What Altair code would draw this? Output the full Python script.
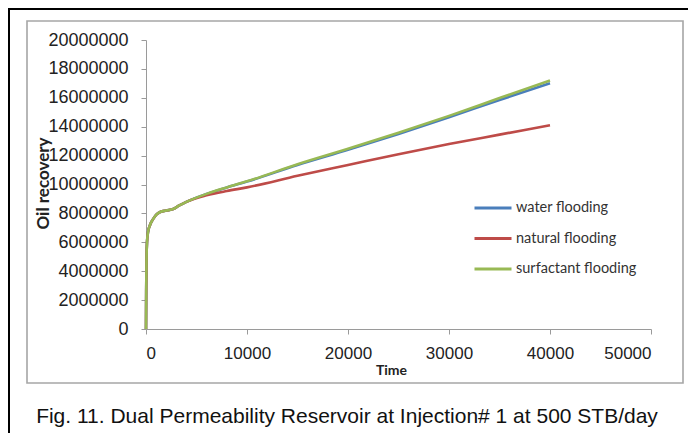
import altair as alt
import pandas as pd

# ---- data ----
t_common = [0, 20, 50, 100, 200, 400, 700, 1000, 1400, 2000, 2700, 3300, 4000]
y_common = [0, 2.6e6, 4.8e6, 6.0e6, 6.7e6, 7.2e6, 7.6e6, 7.9e6, 8.1e6, 8.2e6, 8.3e6, 8.55e6, 8.8e6]

t_late = [6000, 8000, 10000, 15000, 20000, 25000, 30000, 35000, 40000]
water_late = [9.35e6, 9.8e6, 10.2e6, 11.35e6, 12.4e6, 13.5e6, 14.65e6, 15.85e6, 17.0e6]
natural_late = [9.25e6, 9.55e6, 9.8e6, 10.6e6, 11.35e6, 12.1e6, 12.8e6, 13.45e6, 14.1e6]
surf_late = [9.35e6, 9.8e6, 10.22e6, 11.4e6, 12.47e6, 13.58e6, 14.75e6, 15.98e6, 17.2e6]

series_names = ["water flooding", "natural flooding", "surfactant flooding"]
series_colors = ["#4a7ebb", "#be4b48", "#98b954"]

x_ticks = [0, 10000, 20000, 30000, 40000, 50000]
y_ticks = [0, 2000000, 4000000, 6000000, 8000000, 10000000, 12000000,
           14000000, 16000000, 18000000, 20000000]

caption = "Fig. 11. Dual Permeability Reservoir at Injection# 1 at 500 STB/day"

rows = []
for order, (name, late) in enumerate(zip(series_names, [water_late, natural_late, surf_late])):
    for t, v in zip(t_common + t_late, y_common + late):
        rows.append({"Time": t, "Oil recovery": v, "series": name, "order": order})
df = pd.DataFrame(rows)

W, H = 505, 289

lines = alt.Chart(df).mark_line(strokeWidth=2.6, interpolate="monotone").encode(
    x=alt.X("Time:Q", scale=alt.Scale(domain=[0, 50000], nice=False),
            axis=alt.Axis(values=x_ticks, format="d", grid=False,
                          title="Time", titleFont="Lato", titleFontWeight="bold",
                          titleFontSize=14, titleColor="#222222",
                          titleX=245, titleY=41, titleBaseline="middle",
                          titleAnchor="start", titleAlign="center",
                          labelFont="Liberation Sans", labelFontSize=17,
                          labelColor="#222222", labelPadding=11,
                          tickColor="#9a9a9a", domainColor="#9a9a9a", tickSize=5)),
    y=alt.Y("Oil recovery:Q", scale=alt.Scale(domain=[0, 20000000], nice=False),
            axis=alt.Axis(values=y_ticks, format="d", grid=False,
                          title="Oil recovery", titleFont="Lato", titleFontWeight="bold",
                          titleFontSize=17, titleColor="#222222",
                          titleX=-103, titleY=143, titleAngle=-90,
                          titleBaseline="middle", titleAlign="center", titleAnchor="start",
                          labelFont="Liberation Sans", labelFontSize=18,
                          labelColor="#222222", labelPadding=13,
                          tickColor="#9a9a9a", domainColor="#9a9a9a", tickSize=5)),
    color=alt.Color("series:N",
                    scale=alt.Scale(domain=series_names, range=series_colors),
                    sort=series_names,
                    legend=alt.Legend(title=None, orient="none", legendX=327, legendY=160,
                                      symbolType="stroke", symbolSize=1369,
                                      symbolStrokeWidth=3, clipHeight=16,
                                      rowPadding=14.5, labelFont="Lato", labelFontSize=14.5,
                                      labelColor="#333333", labelOffset=3, padding=0)),
    order="order:O",
)

inner_box = alt.Chart(pd.DataFrame({"k": [0]})).mark_rect(
    fill="transparent", stroke="#a6a6a6", strokeWidth=1.6
).encode(x=alt.value(-119), x2=alt.value(537), y=alt.value(-19), y2=alt.value(343))

outer_top = alt.Chart(pd.DataFrame({"k": [0]})).mark_rect(color="black").encode(
    x=alt.value(-138), x2=alt.value(560), y=alt.value(-32), y2=alt.value(-30))
outer_left = alt.Chart(pd.DataFrame({"k": [0]})).mark_rect(color="black").encode(
    x=alt.value(-138), x2=alt.value(-136), y=alt.value(-32), y2=alt.value(420))

cap = alt.Chart(pd.DataFrame({"text": [caption]})).mark_text(
    font="Liberation Sans", fontSize=21, color="#111111", align="center", baseline="middle"
).encode(text="text:N", x=alt.value(201), y=alt.value(377))

chart = alt.layer(outer_top, outer_left, inner_box, lines, cap).properties(
    width=W, height=H,
    autosize=alt.AutoSizeParams(type="none"),
    padding={"left": 138, "top": 32, "right": 37, "bottom": 104},
).configure_view(stroke=None)

chart.save("out.html", embed_options={"renderer": "svg", "actions": False})
